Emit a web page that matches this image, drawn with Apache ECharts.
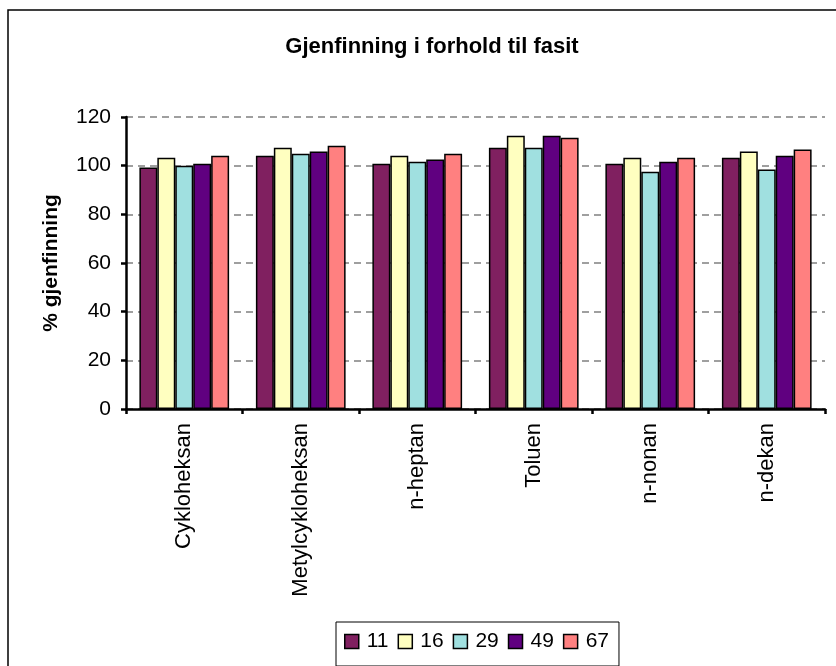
<!DOCTYPE html>
<html><head><meta charset="utf-8">
<script src="https://cdn.jsdelivr.net/npm/echarts@6/dist/echarts.min.js"></script>
<style>html,body{margin:0;padding:0;background:#fff}#c{width:836px;height:666px}</style>
</head><body><div id="c"></div>
<script>
const categories = ['Cykloheksan','Metylcykloheksan','n-heptan','Toluen','n-nonan','n-dekan'];
const seriesNames = ['11','16','29','49','67'];
const s11 = [99.2, 104.1, 100.8, 107.4, 100.8, 103.3];
const s16 = [103.3, 107.4, 104.1, 112.3, 103.3, 105.8];
const s29 = [100.0, 104.9, 101.6, 107.4, 97.5, 98.4];
const s49 = [100.8, 105.8, 102.5, 112.3, 101.6, 104.1];
const s67 = [104.1, 108.2, 104.9, 111.5, 103.3, 106.6];
const yTicks = [0, 20, 40, 60, 80, 100, 120];
const colors = ['#802060', '#FFFFC0', '#A0E0E0', '#600080', '#FF8080'];
const data = [s11, s16, s29, s49, s67];

const chart = echarts.init(document.getElementById('c'));
const font = 'Arial, "Liberation Sans", sans-serif';
chart.setOption({
  animation: false,
  backgroundColor: '#fff',
  title: {
    text: 'Gjenfinning i forhold til fasit',
    left: 427, top: 31, textAlign: 'center',
    textStyle: {fontFamily: font, fontSize: 22, fontWeight: 'bold', color: '#000'}
  },
  graphic: [{
    type: 'rect', shape: {x: 8, y: 10, width: 840, height: 670},
    style: {fill: 'none', stroke: '#000', lineWidth: 1.5}, silent: true
  }],
  legend: {
    data: seriesNames,
    left: 336, top: 622,
    padding: [9, 10, 14, 8],
    itemWidth: 14, itemHeight: 14, itemGap: 9,
    borderColor: '#000', borderWidth: 1,
    icon: 'rect',
    itemStyle: {borderColor: '#000', borderWidth: 1.5},
    textStyle: {fontFamily: font, fontSize: 21, color: '#000', padding: [0, 0, 0, 3]}
  },
  grid: {left: 126, right: 11, top: 117, bottom: 257, containLabel: false},
  xAxis: {
    type: 'category', data: categories,
    axisLine: {lineStyle: {color: '#000', width: 2.5}},
    axisTick: {show: true, length: 5, lineStyle: {color: '#000', width: 2.5}},
    axisLabel: {rotate: 90, margin: 14, fontFamily: font, fontSize: 22, color: '#000'}
  },
  yAxis: {
    type: 'value', min: 0, max: 120, interval: 20,
    name: '% gjenfinning', nameLocation: 'middle', nameGap: 64,
    nameTextStyle: {fontFamily: font, fontSize: 21, fontWeight: 'bold', color: '#000'},
    axisLine: {show: true, lineStyle: {color: '#000', width: 2.5}},
    axisTick: {show: true, inside: false, length: 5, lineStyle: {color: '#000', width: 2.5}},
    axisLabel: {margin: 15, fontFamily: font, fontSize: 21, color: '#000',
      formatter: v => yTicks.includes(v) ? String(v) : ''},
    splitLine: {show: true, lineStyle: {color: '#808080', width: 1.5, type: [7, 5]}}
  },
  series: seriesNames.map((n, i) => ({
    name: n, type: 'bar', data: data[i],
    barGap: '0%', barCategoryGap: '23%',
    itemStyle: {color: colors[i], borderColor: '#000', borderWidth: 1.5}
  }))
});
</script></body></html>
